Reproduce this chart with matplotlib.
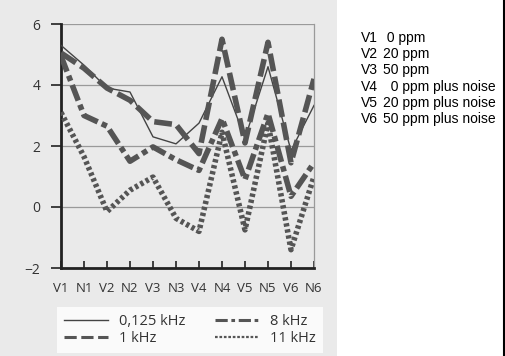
import matplotlib
matplotlib.use("Agg")
import matplotlib.pyplot as plt
from matplotlib.patches import Rectangle
from matplotlib.lines import Line2D

# data
categories = ["V1", "N1", "V2", "N2", "V3", "N3", "V4", "N4", "V5", "N5", "V6", "N6"]
khz_0125 = [5.3, 4.65, 3.9, 3.77, 2.3, 2.07, 2.75, 4.27, 2.25, 4.6, 1.85, 3.33]
khz_1 = [5.05, 4.55, 3.9, 3.5, 2.8, 2.7, 1.75, 5.5, 2.1, 5.4, 1.45, 4.2]
khz_8 = [4.95, 3.0, 2.65, 1.5, 1.97, 1.55, 1.2, 2.9, 0.9, 3.07, 0.35, 1.45]
khz_11 = [3.1, 1.65, -0.15, 0.55, 0.98, -0.37, -0.8, 2.45, -0.75, 2.75, -1.4, 1.0]
series_labels = ["0,125 kHz", "1 kHz", "8 kHz", "11 kHz"]
y_ticks = [-2, 0, 2, 4, 6]

side_codes = ["V1", "V2", "V3", "V4", "V5", "V6"]
side_text = [" 0 ppm", "20 ppm", "50 ppm", "  0 ppm plus noise", "20 ppm plus noise", "50 ppm plus noise"]

W, H = 506, 356
fig = plt.figure(figsize=(W / 100, H / 100), dpi=100)
fig.patch.set_facecolor("white")

# scanned area background
bg = Rectangle((0, 0), 337 / W, 1, transform=fig.transFigure,
               facecolor="#eaeaea", edgecolor="none", zorder=-5)
fig.add_artist(bg)
fig.add_artist(Line2D([504 / W, 504 / W], [0, 1], color="black", lw=1.5))

ax = fig.add_axes([61 / W, (H - 268) / H, (314 - 61) / W, (268 - 24) / H])
ax.set_facecolor("none")

x = list(range(len(categories)))
line_col = "#555555"
ax.plot(x, khz_0125, color="#444444", lw=1.0, label=series_labels[0], zorder=3)
ax.plot(x, khz_1, color=line_col, lw=4, dashes=(3.2, 1.0), label=series_labels[1], zorder=3)
ax.plot(x, khz_8, color=line_col, lw=4, dashes=(3.0, 0.8, 1.0, 0.8), label=series_labels[2], zorder=3)
ax.plot(x, khz_11, color=line_col, lw=4, dashes=(0.6, 0.5), label=series_labels[3], zorder=3)

ax.set_xlim(0, 11)
ax.set_ylim(-2, 6)
ax.set_xticks(x)
ax.set_xticklabels(categories, fontsize=9.5, family="Open Sans", color="#333333")
ax.set_yticks(y_ticks)
ax.set_yticklabels([str(v).replace("-", "\u2212") for v in y_ticks],
                   fontsize=10, family="Open Sans", color="#333333")
ax.tick_params(axis="x", direction="in", length=5, width=1.2, color="#222222", pad=10)
ax.tick_params(axis="y", direction="out", length=7, width=1.2, color="#222222", pad=8)
ax.yaxis.grid(True, color="#9a9a9a", lw=0.9)
ax.set_axisbelow(True)
ax.spines["top"].set_visible(False)
ax.spines["right"].set_color("#9a9a9a")
ax.spines["right"].set_linewidth(0.9)
for s in ["left", "bottom"]:
    ax.spines[s].set_linewidth(2)
    ax.spines[s].set_color("#222222")

handles = [
    Line2D([], [], color="#444444", lw=1.0),
    Line2D([], [], color=line_col, lw=2.2, dashes=(4, 1.5)),
    Line2D([], [], color=line_col, lw=2.2, dashes=(4, 1.2, 1.2, 1.2)),
    Line2D([], [], color=line_col, lw=1.6, dashes=(1.2, 0.8)),
]
leg = fig.legend(handles, series_labels, ncol=2, loc="center",
                 bbox_to_anchor=(190 / W, (H - 330) / H),
                 prop={"family": "Open Sans", "size": 10.5},
                 frameon=True, fancybox=False, handlelength=3.0,
                 columnspacing=2.0, labelspacing=0.1, borderpad=0.5,
                 borderaxespad=0)
leg.get_frame().set_facecolor("white")
leg.get_frame().set_edgecolor("none")
for t in leg.get_texts():
    t.set_color("#333333")

# side legend text
for i, (code, txt) in enumerate(zip(side_codes, side_text)):
    yy = 1 - (38 + i * 16.2) / H
    fig.text(361 / W, yy, code, fontsize=10, family="Liberation Sans", va="center")
    fig.text(383 / W, yy, txt, fontsize=10, family="Liberation Sans", va="center")

fig.savefig("out.png", dpi=100)
